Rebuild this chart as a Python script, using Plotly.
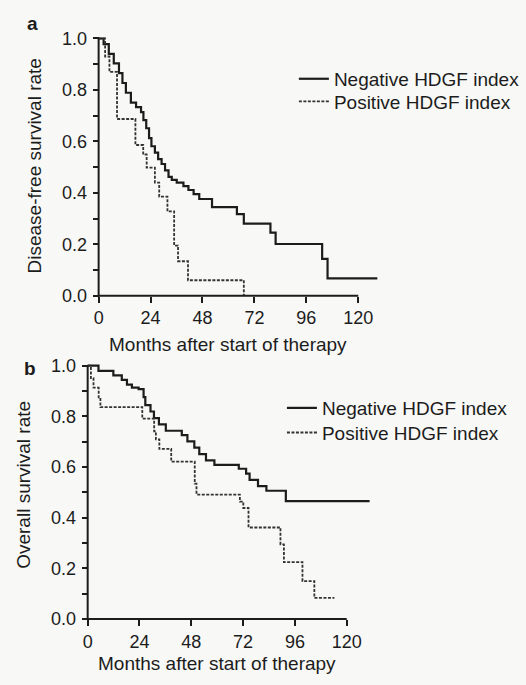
import plotly.graph_objects as go

# ---------------- data ----------------
months_ticks = [0, 24, 48, 72, 96, 120]
rate_ticks = [0.0, 0.2, 0.4, 0.6, 0.8, 1.0]
rate_tick_text = ["0.0", "0.2", "0.4", "0.6", "0.8", "1.0"]

# panel a: disease-free survival
neg_a_t = [0, 2.3, 4.7, 7.0, 9.4, 11.0, 12.6, 14.9, 17.3, 19.6, 20.7, 22.0, 23.3, 24.4, 26.0,
           27.5, 29.1, 30.7, 32.3, 33.8, 36.1, 39.2, 41.5, 43.9, 46.5, 52.4, 63.9, 67.1, 79.4,
           81.8, 103.3, 105.8, 128.8]
neg_a_s = [1.0, 0.978, 0.940, 0.903, 0.865, 0.827, 0.789, 0.751, 0.733, 0.714, 0.683, 0.651, 0.613,
           0.581, 0.556, 0.531, 0.512, 0.487, 0.462, 0.450, 0.440, 0.426, 0.411, 0.395, 0.376, 0.344,
           0.317, 0.280, 0.245, 0.201, 0.143, 0.067, 0.067]
pos_a_t = [0, 3.0, 5.0, 8.5, 17.0, 20.6, 22.2, 26.0, 28.0, 31.8, 34.9, 36.7, 41.3, 67.1]
pos_a_s = [1.0, 0.93, 0.87, 0.687, 0.586, 0.549, 0.498, 0.44, 0.385, 0.328, 0.195, 0.134, 0.06, 0.0]

# panel b: overall survival
neg_b_t = [0, 5.0, 11.9, 15.8, 18.2, 20.5, 23.6, 25.9, 26.7, 29.1, 30.7, 33.0, 36.2, 43.6, 46.2,
           49.4, 51.7, 54.8, 58.7, 70.0, 73.4, 75.0, 78.9, 82.8, 91.8, 130.6]
neg_b_s = [1.0, 0.979, 0.962, 0.944, 0.925, 0.913, 0.907, 0.876, 0.844, 0.819, 0.793, 0.768, 0.743,
           0.726, 0.701, 0.676, 0.651, 0.626, 0.608, 0.593, 0.574, 0.549, 0.524, 0.506, 0.465, 0.465]
pos_b_t = [0, 1.5, 2.7, 5.1, 5.9, 25.3, 30.8, 31.6, 33.2, 38.7, 49.6, 50.4, 70.5, 72.1, 74.5,
           89.3, 90.9, 99.5, 105.0, 114.3]
pos_b_s = [1.0, 0.951, 0.913, 0.869, 0.836, 0.791, 0.741, 0.709, 0.671, 0.621, 0.534, 0.491, 0.463,
           0.438, 0.361, 0.294, 0.224, 0.149, 0.083, 0.083]

neg_label = "Negative HDGF index"
pos_label = "Positive HDGF index"
x_title = "Months after start of therapy"
y_title_a = "Disease-free survival rate"
y_title_b = "Overall survival rate"

# ---------------- layout geometry ----------------
W, H = 526, 685
FONT = "Liberation Sans, Arial, Helvetica, sans-serif"
INK = "#1c1c1c"
XR = [-1.5, 132]
YR = [-0.02, 1.02]

def px_x(px):
    return px / W

def px_y(py):
    return 1 - py / H

# panel geometry: origin pixel, px per month, px per unit rate
pa = dict(ox=97, oy=295, pm=2.172, pu=261)
pb = dict(ox=86, oy=623, pm=2.167, pu=257)

def domains(p):
    left = p["ox"] + XR[0] * p["pm"]
    right = p["ox"] + XR[1] * p["pm"]
    top = p["oy"] - YR[1] * p["pu"]
    bottom = p["oy"] - YR[0] * p["pu"]
    return [px_x(left), px_x(right)], [px_y(bottom), px_y(top)]

xa_dom, ya_dom = domains(pa)
xb_dom, yb_dom = domains(pb)

fig = go.Figure()

solid = dict(color=INK, width=2.2)
dotted = dict(color="#333333", width=1.8, dash="3px,1.5px")

fig.add_trace(go.Scatter(x=neg_a_t, y=neg_a_s, mode="lines", line=dict(shape="hv", **solid),
                         name=neg_label, xaxis="x", yaxis="y", legend="legend"))
fig.add_trace(go.Scatter(x=pos_a_t, y=pos_a_s, mode="lines", line=dict(shape="hv", **dotted),
                         name=pos_label, xaxis="x", yaxis="y", legend="legend2"))
fig.add_trace(go.Scatter(x=neg_b_t, y=neg_b_s, mode="lines", line=dict(shape="hv", **solid),
                         name=neg_label, xaxis="x2", yaxis="y2", legend="legend3"))
fig.add_trace(go.Scatter(x=pos_b_t, y=pos_b_s, mode="lines", line=dict(shape="hv", **dotted),
                         name=pos_label, xaxis="x2", yaxis="y2", legend="legend4"))

tickfont = dict(family=FONT, size=18, color=INK)

def xaxis(dom, pos):
    return dict(domain=dom, range=XR, anchor="free", position=pos, showgrid=False, zeroline=False,
                showline=False, tickmode="array", tickvals=months_ticks, ticks="outside",
                ticklen=6, tickwidth=2, tickcolor=INK, tickfont=tickfont, ticklabelstandoff=0,
                fixedrange=True)

def yaxis(dom, pos):
    return dict(domain=dom, range=YR, anchor="free", position=pos, showgrid=False, zeroline=False,
                showline=False, tickmode="array", tickvals=rate_ticks, ticktext=rate_tick_text,
                ticks="outside", ticklen=6, tickwidth=2, tickcolor=INK, tickfont=tickfont,
                ticklabelstandoff=2, fixedrange=True,
                minor=dict(dtick=0.1, ticks="outside", ticklen=6, tickwidth=2, tickcolor=INK,
                           showgrid=False))

def legend(xpx, ypx):
    return dict(x=px_x(xpx), y=px_y(ypx), xanchor="left", yanchor="middle",
                bgcolor="rgba(0,0,0,0)", font=dict(family=FONT, size=19, color=INK),
                itemwidth=30)

fig.update_layout(
    width=W, height=H,
    margin=dict(l=0, r=0, t=0, b=0),
    paper_bgcolor="#f8f8f6", plot_bgcolor="rgba(0,0,0,0)",
    font=dict(family=FONT, size=19, color=INK),
    xaxis=xaxis(xa_dom, px_y(pa["oy"])),
    yaxis=yaxis(ya_dom, px_x(pa["ox"])),
    xaxis2=xaxis(xb_dom, px_y(pb["oy"])),
    yaxis2=yaxis(yb_dom, px_x(pb["ox"])),
    legend=legend(293, 75),
    legend2=legend(293, 98),
    legend3=legend(281, 409),
    legend4=legend(281, 434),
    showlegend=True,
)

# axis lines (0..120 months, 0..1 rate)
for xr, yr in (("x", "y"), ("x2", "y2")):
    fig.add_shape(type="line", xref=xr, yref=yr, x0=0, x1=120, y0=0, y1=0,
                  line=dict(color=INK, width=2))
    fig.add_shape(type="line", xref=xr, yref=yr, x0=0, x1=0, y0=0, y1=1,
                  line=dict(color=INK, width=2))

def note(text, xpx, ypx, angle=0):
    return dict(text=text, textangle=angle, x=px_x(xpx), y=px_y(ypx), xref="paper",
                yref="paper", xanchor="center", yanchor="middle", showarrow=False,
                font=dict(family=FONT, size=19, color=INK))

fig.update_layout(annotations=[
    note("<b>a</b>", 31, 19),
    note("<b>b</b>", 28, 369),
    note(y_title_a, 33, 163, -90),
    note(y_title_b, 22, 487, -90),
    note(x_title, 227, 345),
    note(x_title, 216, 668),
])

fig.write_html("out.html", config={"displayModeBar": False},
               post_script="document.body.style.margin='0';")
